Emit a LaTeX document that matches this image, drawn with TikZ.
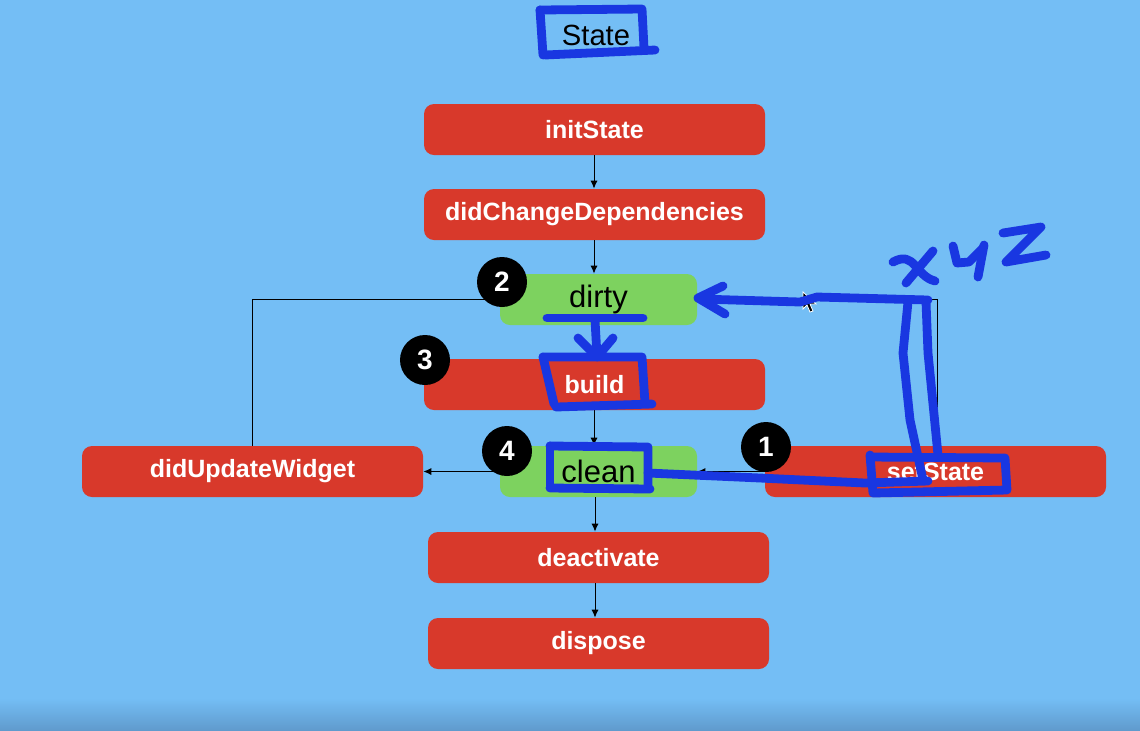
\documentclass[tikz,border=0pt]{standalone}
\usepackage{fontspec}
\setmainfont{Liberation Sans}
\usepackage{tikz}
\usetikzlibrary{shapes,               % d'autres formes
           calc,                      % Calculs de coordonnées entre $ $
           arrows.meta,               % pointes de flèches
           shadings}
\definecolor{fond}{RGB}{116,190,245}
\definecolor{fondbas}{RGB}{96,155,205}
\definecolor{rouge}{RGB}{216,57,43}
\definecolor{vert}{RGB}{125,210,95}
\definecolor{stylo}{RGB}{25,55,225}
\tikzset{
  etape/.style={rectangle, rounded corners=5pt, fill=rouge, text=white,
                font=\bfseries\fontsize{12.5}{14}\selectfont,
                minimum width=170.5pt, minimum height=25.5pt, inner sep=0},
  etat/.style={rectangle, rounded corners=5pt, fill=vert, text=black,
               font=\fontsize{15.5}{17}\selectfont,
               minimum width=98.5pt, minimum height=25.5pt, inner sep=0},
  pastille/.style={circle, fill=black, text=white,
                   font=\bfseries\fontsize{14}{16}\selectfont,
                   minimum size=25pt, inner sep=0},
  lien/.style={line width=0.5pt, -{Latex[length=4pt,width=3.6pt]}},
  feutre/.style={draw=stylo, line width=4.4pt, line cap=round, line join=round}
}

\begin{document}
\begin{tikzpicture}[x=0.5pt,y=-0.5pt]
\useasboundingbox (0,0) rectangle (1140,730);
\fill[fond] (0,0) rectangle (1140,730);
\shade[top color=fond, bottom color=fondbas] (0,698) rectangle (1140,730);

\node[font=\fontsize{14.6}{16}\selectfont](titre) at (596,35) {State};

\node[etape](init) at (594.5,129.5) {initState};
\node[etape](dep) at (594.5,214.5) {didChangeDependencies};
\node[etat](dirty) at (598.5,299.5) {dirty};
\node[etape](build) at (594.5,384.5) {build};
\node[etape](update) at (252.5,471.5) {didUpdateWidget};
\node[etat](clean) at (598.5,471.5) {clean};
\node[etape](setState) at (935.5,471.5) {setState};
\node[etape](deact) at (598.5,557.5) {deactivate};
\node[etape](dispose) at (598.5,643.5) {dispose};

\draw[lien] (init.south -| 594,0) -- (dep.north -| 594,0);
\draw[lien] (dep.south -| 594,0) -- (dirty.north -| 594,0);
\draw[lien] (dirty.south -| 594,0) -- (build.north -| 594,0);
\draw[lien] (build.south -| 594,0) -- (clean.north -| 594,0);
\draw[lien] (clean.south -| 595,0) -- (deact.north -| 595,0);
\draw[lien] (deact.south -| 595,0) -- (dispose.north -| 595,0);
\draw[lien] (clean.west) -- (update.east);
\draw[lien] (setState.west) -- (clean.east);
\draw[lien] (update.north) |- (dirty.west);
\draw[lien] (setState.north) ++(2,0) |- (dirty.east);

\node[pastille](p1) at (766,447) {1};
\node[pastille](p2) at (502,282) {2};
\node[pastille](p3) at (425,360) {3};
\node[pastille](p4) at (507,451) {4};

% curseur de la souris
\filldraw[fill=black, draw=white, line width=0.4pt]
  (803,292) -- (803,309) -- (807,305) -- (810,312) -- (813,311) -- (810,304) -- (816,304) -- cycle;

% annotations au feutre
\draw[feutre] (540,10) -- (642,9) -- (644,48);
\draw[feutre] (540,10) -- (543,55);
\draw[feutre] (545,55) -- (655,50);
\draw[feutre] (547,318) -- (643,318);
\draw[feutre] (595,320) -- (597,356);
\draw[feutre] (578,338) -- (597,357) -- (613,338);
\draw[feutre] (543,357) -- (642,357) -- (645,403);
\draw[feutre] (543,357) -- (554,404);
\draw[feutre] (556,407) -- (652,404);
\draw[feutre] (550,446) -- (648,447) -- (648,488);
\draw[feutre] (550,446) -- (550,487);
\draw[feutre] (550,488) -- (650,489);
\draw[feutre] (648,473) -- (760,478) -- (865,483) -- (928,481);
\draw[feutre] (870,455) -- (873,493) -- (1007,490) -- (1005,458) -- (870,457);
\draw[feutre] (923,480) -- (910,420) -- (903,353) -- (908,302);
\draw[feutre] (938,455) -- (928,353) -- (926,302);
\draw[feutre] (700,299) -- (800,302) -- (817,297) -- (928,300);
\draw[feutre] (723,286) -- (698,298) -- (725,314);
\draw[feutre] (893,262) .. controls (915,250) and (915,276) .. (935,281);
\draw[feutre] (933,251) -- (906,283);
\draw[feutre] (953,246) -- (957,263) -- (969,262) -- (983,248);
\draw[feutre] (984,245) -- (978,277);
\draw[feutre] (1003,233) -- (1041,227) -- (1006,262) -- (1046,255);
\end{tikzpicture}
\end{document}
